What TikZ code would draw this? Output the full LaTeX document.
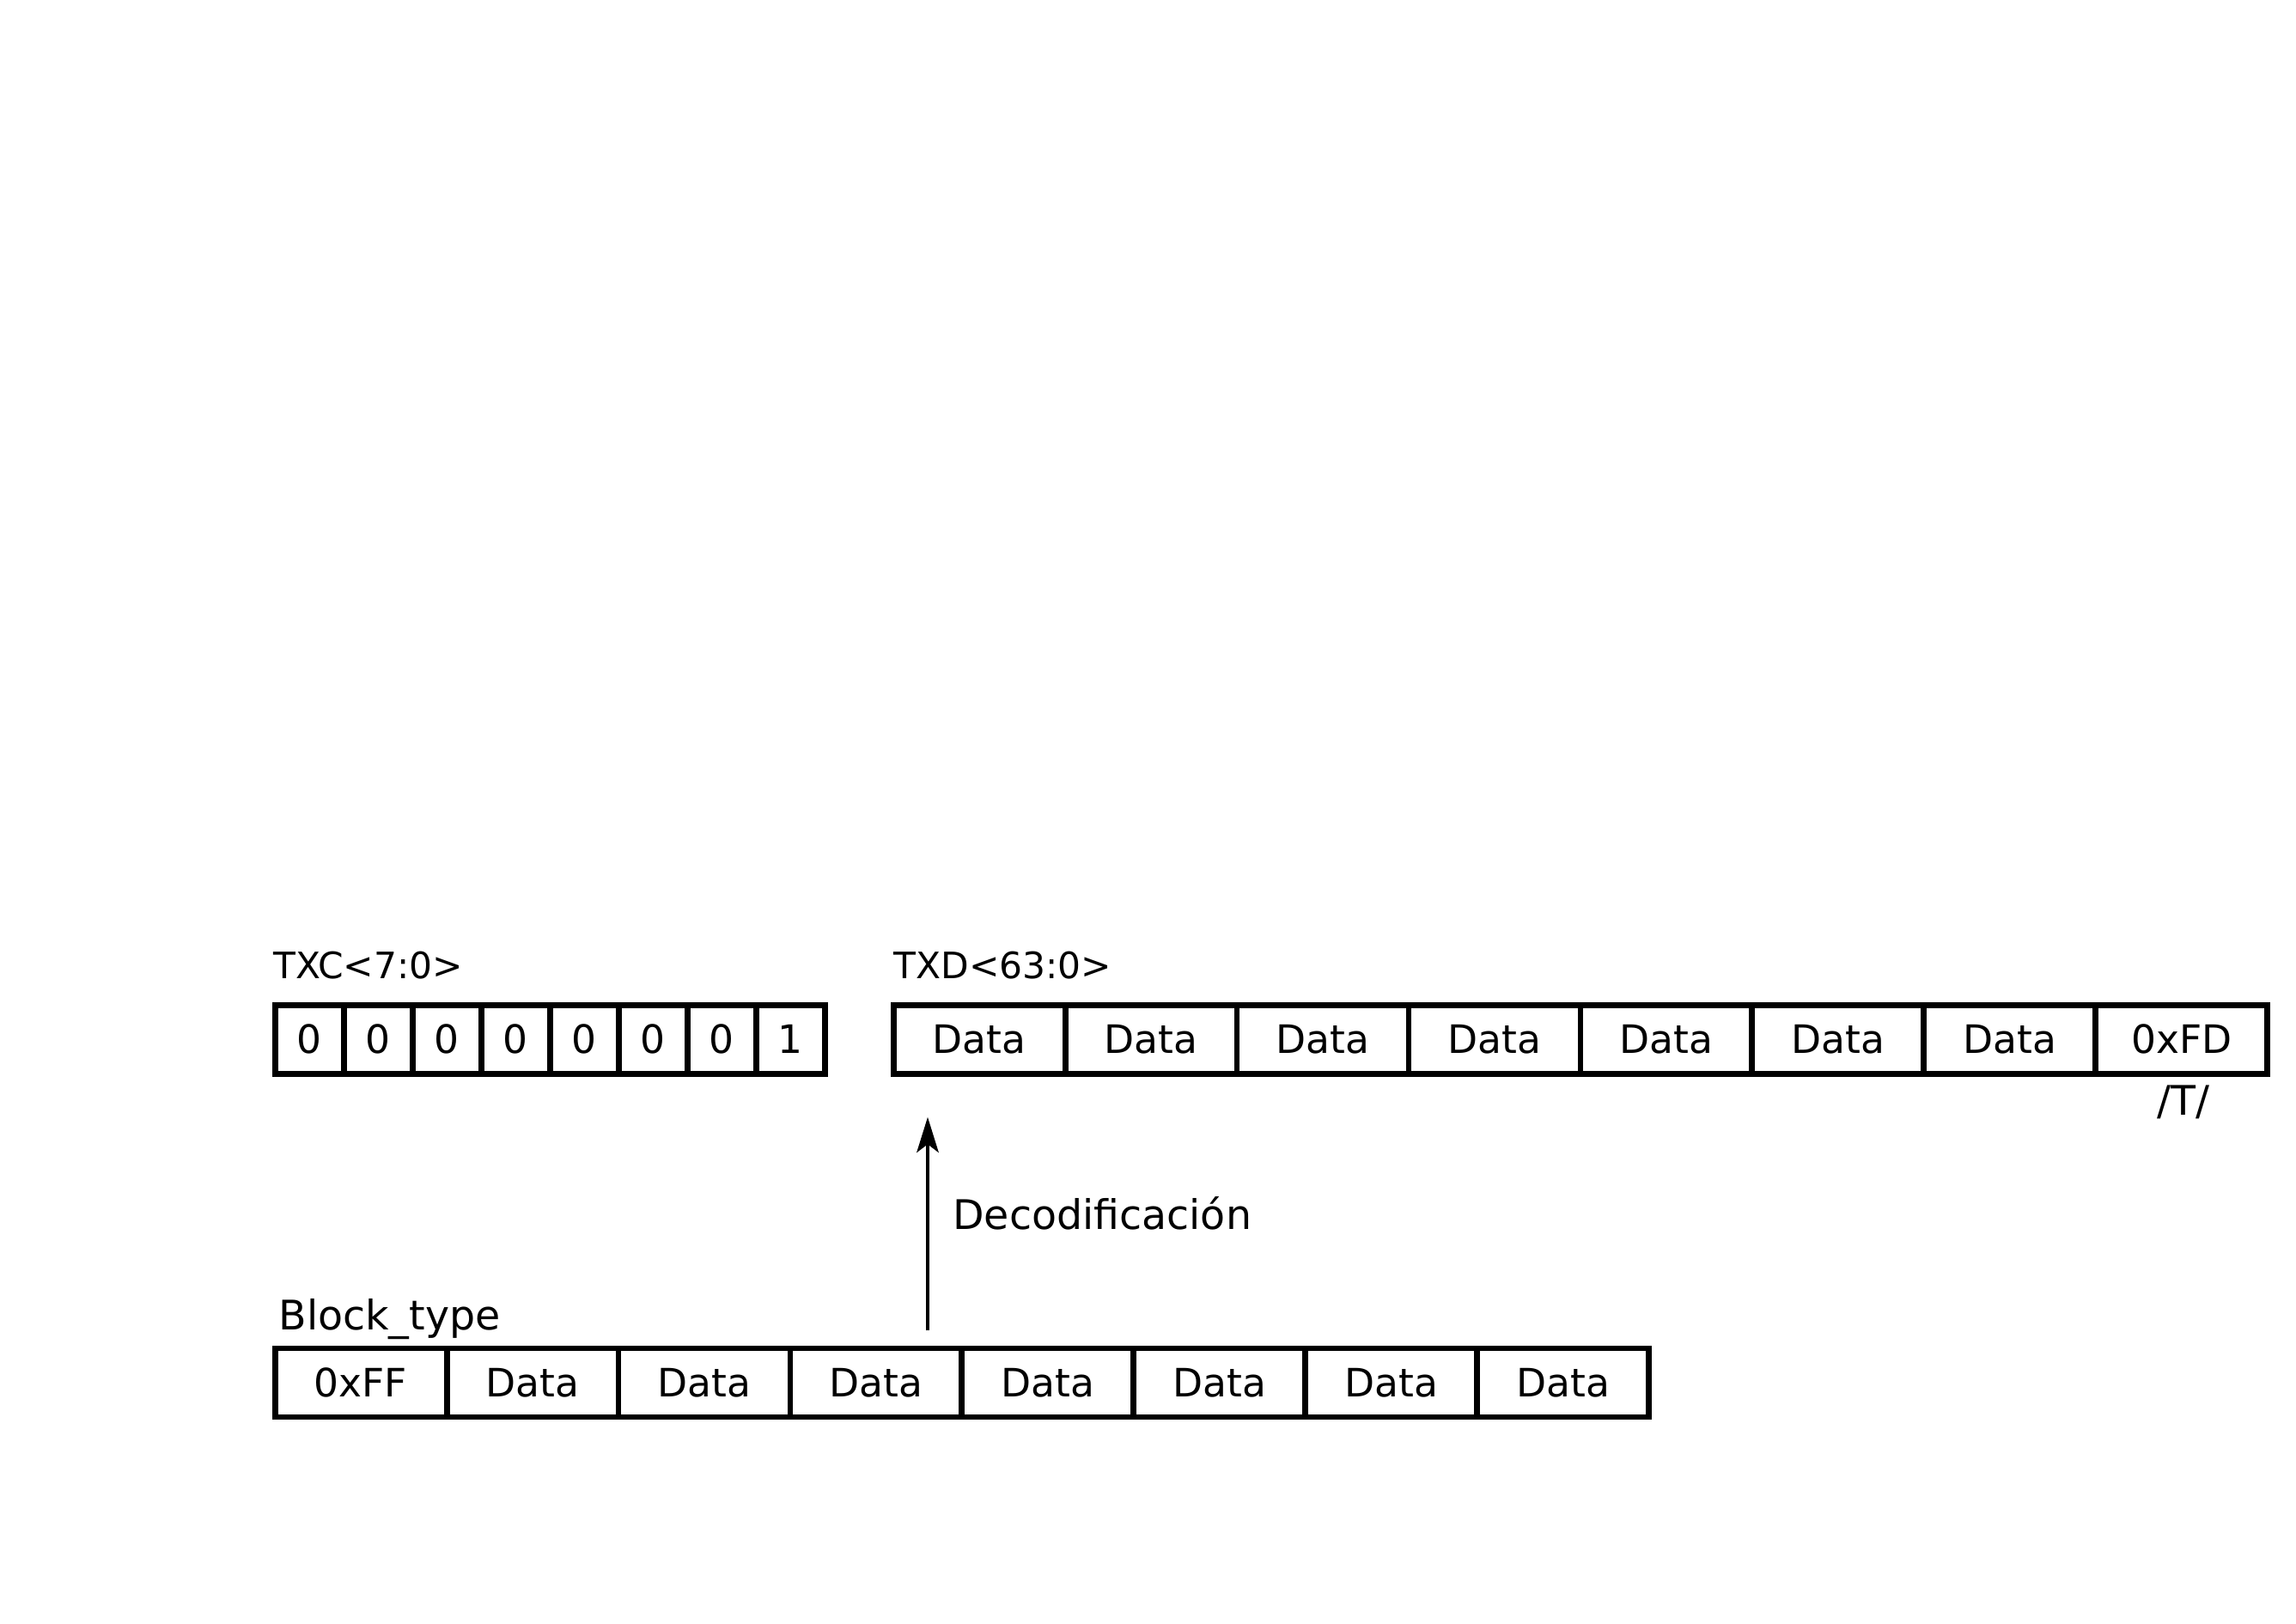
\documentclass[tikz,border=0pt]{standalone}
\usepackage{fontspec}
\setmainfont{DejaVu Sans}
\usetikzlibrary{arrows.meta}

\begin{document}
\begin{tikzpicture}[
    cellbox/.style={draw,line width=2.2pt,inner sep=0pt,outer sep=0pt,anchor=north west,
      minimum height=0.889cm,font=\fontsize{14.4}{17}\selectfont},
    bitbox/.style={cellbox,minimum width=0.889cm},
    bytebox/.style={cellbox,minimum width=2.222cm},
    lbl/.style={inner sep=0pt,anchor=base west,font=\fontsize{13.4}{16}\selectfont},
    txt/.style={inner sep=0pt,font=\fontsize{15}{18}\selectfont},
    decarrow/.style={line width=1.5pt,-{Stealth[length=13pt,width=8pt,inset=3pt]}}]
  \useasboundingbox (0,0) rectangle (29.7,-21);

  \foreach \v [count=\i] in {0,0,0,0,0,0,0,1}
    \node[bitbox] (txc\i) at ({3.556+(\i-1)*0.889},-13) {\v};
  \foreach \v [count=\i] in {Data,Data,Data,Data,Data,Data,Data,0xFD}
    \node[bytebox] (txd\i) at ({11.556+(\i-1)*2.222},-13) {\v};
  \foreach \v [count=\i] in {0xFF,Data,Data,Data,Data,Data,Data,Data}
    \node[bytebox] (blk\i) at ({3.556+(\i-1)*2.222},-17.444) {\v};

  \node[lbl] (txclbl) at (3.53,-12.659) {TXC<7:0>};
  \node[lbl] (txdlbl) at (11.556,-12.659) {TXD<63:0>};
  \node[txt,anchor=base] (term) at (28.24,-14.426) {/T/};
  \node[txt,anchor=base west] (blklbl) at (3.6,-17.204) {Block\_type};
  \node[txt,anchor=base west] (declbl) at (12.32,-15.907) {Decodificación};

  \coordinate (decA) at (12,-17.214);
  \coordinate (decB) at (12,-14.452);
  \draw[decarrow] (decA) -- (decB);

\end{tikzpicture}
\end{document}
